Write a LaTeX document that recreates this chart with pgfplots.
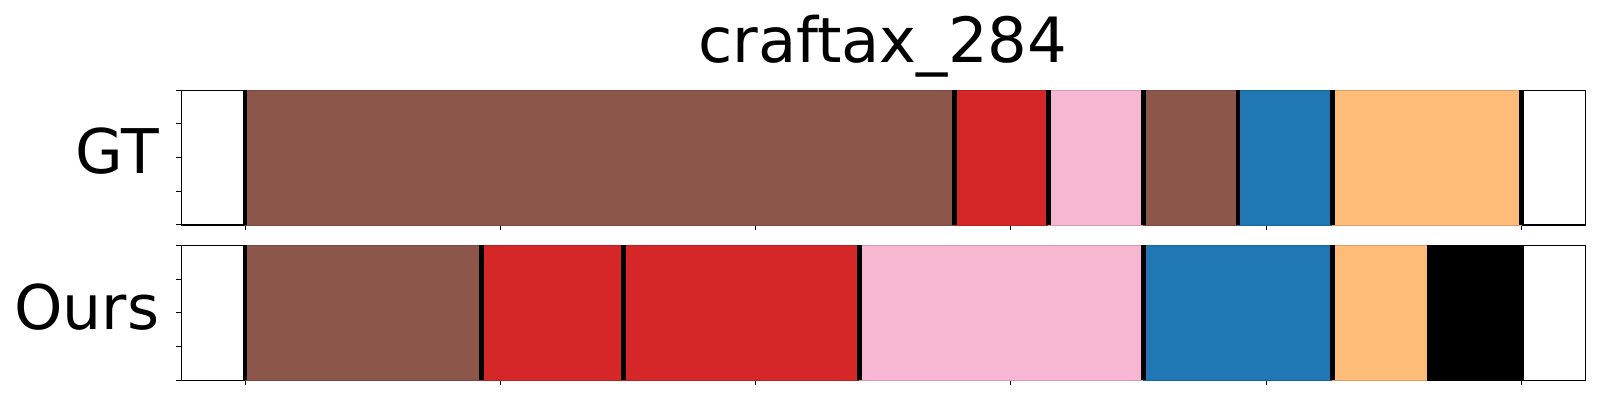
\documentclass[border=0pt]{standalone}
\usepackage{pgfplots}
\pgfplotsset{compat=1.18}
\usepackage{fontspec}
\setmainfont{DejaVu Sans}
\definecolor{tbrown}{HTML}{8C564B}
\definecolor{tred}{HTML}{D62728}
\definecolor{tpink}{HTML}{F7B6D2}
\definecolor{tblue}{HTML}{1F77B4}
\definecolor{torange}{HTML}{FFBB78}
\pgfplotsset{
  segax/.style={
    scale only axis, width=702pt, height=67.4pt, anchor=south west,
    xmin=-1.35, xmax=28.35, ymin=0, ymax=1,
    xtick={0,5.4,10.8,16.2,21.6,27}, ytick={0,0.25,0.5,0.75,1},
    xticklabels={}, yticklabels={},
    tick align=outside, tick pos=left,
    major tick length=2.5pt,
    every tick/.style={black, line width=0.5pt},
    axis line style={line width=0.6pt},
    clip=false,
  },
  seg/.style={draw=#1!85!black, line width=0.4pt, fill=#1},
  bnd/.style={black, line width=2.3pt},
}
\begin{document}
\begin{tikzpicture}
\path[use as bounding box] (0,0) rectangle (800pt,200pt);
% GT
\begin{axis}[segax, at={(90.65pt,87.5pt)}]
\addplot[seg=tbrown] coordinates {(0,0) (15,0) (15,1) (0,1)} -- cycle;
\addplot[seg=tred] coordinates {(15,0) (17,0) (17,1) (15,1)} -- cycle;
\addplot[seg=tpink] coordinates {(17,0) (19,0) (19,1) (17,1)} -- cycle;
\addplot[seg=tbrown] coordinates {(19,0) (21,0) (21,1) (19,1)} -- cycle;
\addplot[seg=tblue] coordinates {(21,0) (23,0) (23,1) (21,1)} -- cycle;
\addplot[seg=torange] coordinates {(23,0) (27,0) (27,1) (23,1)} -- cycle;
\addplot[bnd] coordinates {(0,0) (0,1)};
\addplot[bnd] coordinates {(15,0) (15,1)};
\addplot[bnd] coordinates {(17,0) (17,1)};
\addplot[bnd] coordinates {(19,0) (19,1)};
\addplot[bnd] coordinates {(21,0) (21,1)};
\addplot[bnd] coordinates {(23,0) (23,1)};
\addplot[bnd] coordinates {(27,0) (27,1)};
\end{axis}
% Ours
\begin{axis}[segax, at={(90.65pt,9.85pt)}]
\addplot[seg=tbrown] coordinates {(0,0) (5,0) (5,1) (0,1)} -- cycle;
\addplot[seg=tred] coordinates {(5,0) (8,0) (8,1) (5,1)} -- cycle;
\addplot[seg=tred] coordinates {(8,0) (13,0) (13,1) (8,1)} -- cycle;
\addplot[seg=tpink] coordinates {(13,0) (19,0) (19,1) (13,1)} -- cycle;
\addplot[seg=tblue] coordinates {(19,0) (23,0) (23,1) (19,1)} -- cycle;
\addplot[seg=torange] coordinates {(23,0) (25,0) (25,1) (23,1)} -- cycle;
\addplot[fill=black, draw=black, line width=0.4pt] coordinates {(25,0) (27,0) (27,1) (25,1)} -- cycle;
\addplot[bnd] coordinates {(0,0) (0,1)};
\addplot[bnd] coordinates {(5,0) (5,1)};
\addplot[bnd] coordinates {(8,0) (8,1)};
\addplot[bnd] coordinates {(13,0) (13,1)};
\addplot[bnd] coordinates {(19,0) (19,1)};
\addplot[bnd] coordinates {(23,0) (23,1)};
\addplot[bnd] coordinates {(27,0) (27,1)};
\end{axis}
\node[anchor=base, inner sep=0pt, font=\fontsize{31.2}{36}\selectfont] at (441.3pt,168.85pt) {craftax\_284};
\node[anchor=base east, inner sep=0pt, font=\fontsize{30.8}{36}\selectfont] at (79.6pt,113pt) {GT};
\node[anchor=base east, inner sep=0pt, font=\fontsize{30.8}{36}\selectfont] at (79.9pt,35pt) {Ours};
\end{tikzpicture}
\end{document}
